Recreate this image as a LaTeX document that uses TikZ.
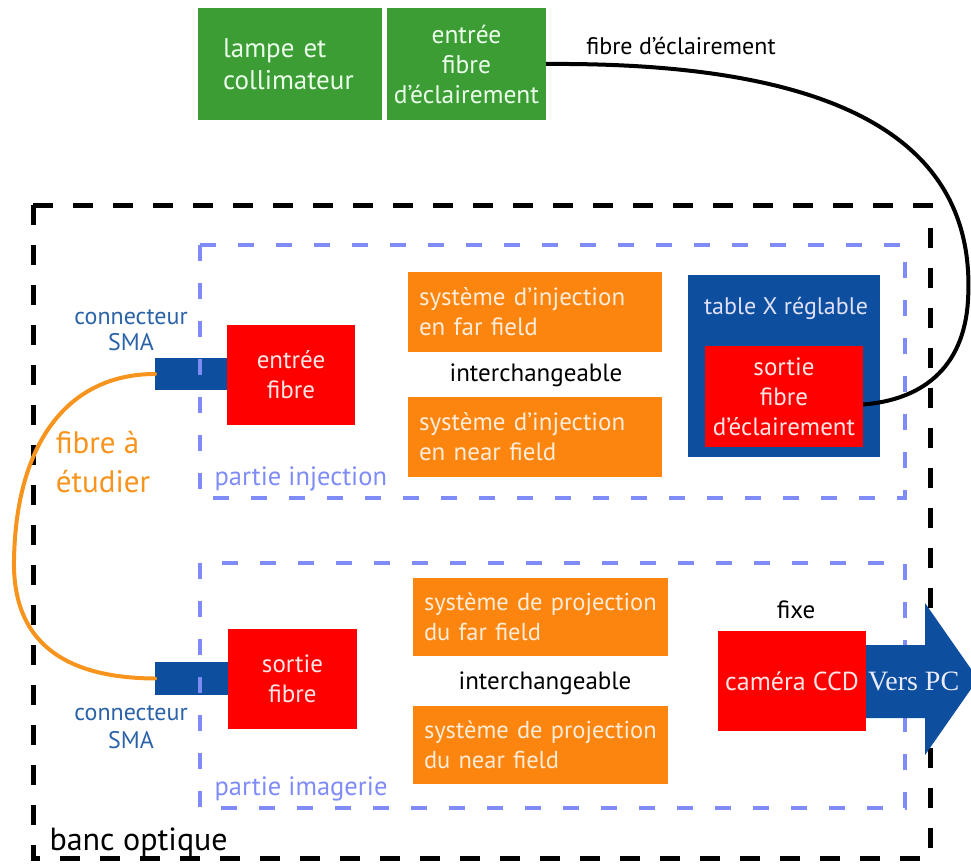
\documentclass[tikz,border=0pt]{standalone}
\usepackage{fontspec}
\setmainfont{PT Sans}
\newfontfamily\versfont{Liberation Serif}
\definecolor{cgreen}{HTML}{3C9D35}
\definecolor{cred}{HTML}{FF0000}
\definecolor{corange}{HTML}{FC850F}
\definecolor{cblue}{HTML}{0D4F9E}
\definecolor{cdash}{HTML}{7F8CF7}
\definecolor{clabel}{HTML}{2A62A8}
\definecolor{cforange}{HTML}{F7941D}
\tikzset{
  box/.style={rectangle, inner sep=0pt, outer sep=0pt, align=center},
  greenbox/.style={box, fill=cgreen, text=white!92!green},
  redbox/.style={box, fill=cred, text=white!90!red},
  orangebox/.style={box, fill=corange, text=white!85!orange, align=left, inner xsep=11pt},
  bluebox/.style={box, fill=cblue},
  bigdash/.style={draw=black, line width=5pt, dash pattern=on 20pt off 20pt},
  partdash/.style={draw=cdash, line width=4pt, dash pattern=on 16pt off 22pt},
  fnt/.style={font=\fontsize{25}{30}\selectfont},
  sz/.style={font=\fontsize{#1}{30}\selectfont},
}
\begin{document}
\begin{tikzpicture}[x=1pt,y=-1pt]
\useasboundingbox (0,0) rectangle (971,864);
% banc optique frame
\draw[bigdash] (33,205) rectangle (930,858);
% connectors
\node[bluebox, minimum width=72pt, minimum height=32pt] (c1) at (191,374) {};
\node[bluebox, minimum width=73pt, minimum height=33pt] (c2) at (191.5,678.5) {};
% part frames
\draw[partdash] (200,245) rectangle (905,498);
\draw[partdash] (200,563) rectangle (905,808);
% green top
\node[greenbox, font=\fontsize{27}{32}\selectfont, minimum width=184pt, minimum height=112pt, align=left, text width=134pt] (lamp) at (290,64) {lampe et\\collimateur};
\node[greenbox, sz=25.5, minimum width=159pt, minimum height=112pt] (ein) at (466.5,64) {entrée\\fibre\\d’éclairement};
\node[sz=24] (lfib) at (681,46) {fibre d’éclairement};
% injection part
\node[redbox, fnt, minimum width=128pt, minimum height=100pt] (ef) at (291,375) {entrée\\fibre};
\node[orangebox, fnt, text width=232pt, minimum height=80pt] (inj1) at (535,312) {système d’injection\\en far field};
\node[orangebox, fnt, text width=232pt, minimum height=80pt] (inj2) at (535,437) {système d’injection\\en near field};
\node[fnt] (ic1) at (536,375) {interchangeable};
\node[bluebox, minimum width=192pt, minimum height=182pt] (tab) at (784,366) {};
\node[sz=24, text=white!88!blue] (tabl) at (786,308) {table X réglable};
\node[redbox, fnt, minimum width=158pt, minimum height=101pt] (sec) at (784,396.5) {sortie\\fibre\\d’éclairement};
\node[font=\fontsize{24}{26}\selectfont, text=clabel, align=center] (lc1) at (131,330) {connecteur\\SMA};
\node[sz=26.5, text=cdash, anchor=west] (pinj) at (211,479) {partie injection};
% imagerie part
\node[redbox, fnt, minimum width=129pt, minimum height=100pt] (sf) at (292.5,679) {sortie\\fibre};
\node[orangebox, sz=24.5, text width=233pt, minimum height=78pt] (pr1) at (540.5,617) {système de projection\\du far field};
\node[orangebox, sz=24.5, text width=233pt, minimum height=78pt] (pr2) at (540.5,745) {système de projection\\du near field};
\node[fnt] (ic2) at (545,683) {interchangeable};
\node[fnt] (fixe) at (796,610) {fixe};
\node[font=\fontsize{24}{28}\selectfont, text=clabel, align=center] (lc2) at (131,727) {connecteur\\SMA};
\node[sz=26.5, text=cdash, anchor=west] (pimg) at (211,789) {partie imagerie};
\node[font=\fontsize{32}{36}\selectfont, anchor=west] (banc) at (46,842) {banc optique};
% fibres
\draw[line width=4pt, cforange, line cap=round] (c1.west) .. controls (70,374) and (16,440) .. (14,560) .. controls (12,660) and (90,678) .. (c2.west);
\node[font=\fontsize{31}{39}\selectfont, text=cforange, align=left] (fae) at (103,462) {fibre à\\étudier};
\draw[line width=4pt, black] (ein.east) .. controls (820,62) and (978,130) .. (968,300) .. controls (964,370) and (920,400) .. ([yshift=-8pt]sec.east);
% camera + arrow
\fill[cblue] (866,645) -- (925,645) -- (925,603) -- (978,679) -- (925,755) -- (925,718) -- (866,718) -- cycle;
\node[redbox, sz=26, minimum width=148pt, minimum height=100pt] (cam) at (792,681) {caméra CCD};
\node[font=\versfont\fontsize{28}{30}\selectfont, text=white!92!blue, anchor=west, inner xsep=2pt] (pc) at (cam.east) {Vers PC};
\end{tikzpicture}
\end{document}
